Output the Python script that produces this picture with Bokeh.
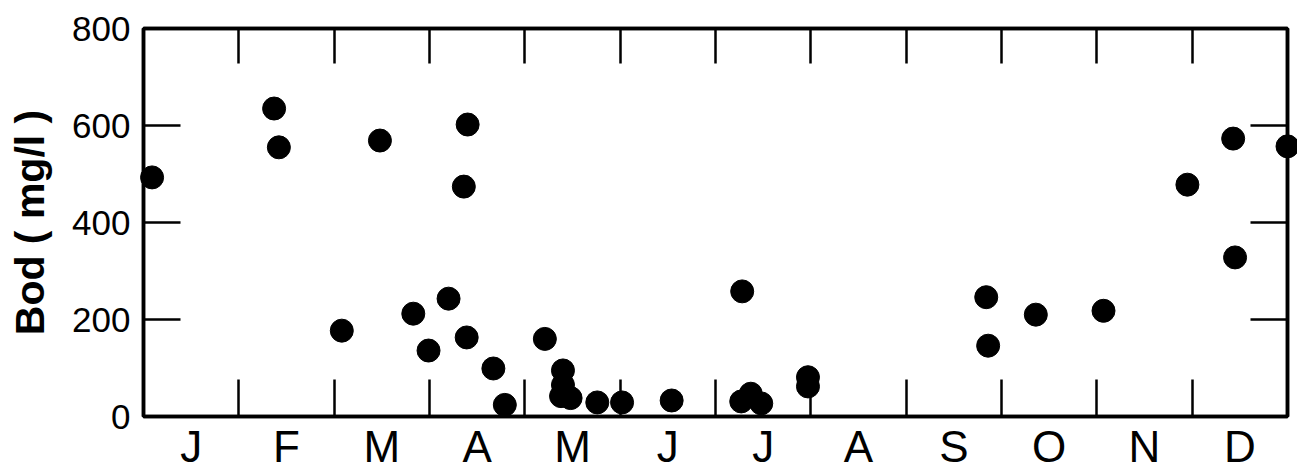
from bokeh.plotting import figure
from bokeh.models import FixedTicker, LinearAxis, Range1d
from bokeh.embed import file_html
from bokeh.resources import INLINE

# ---- data -------------------------------------------------------------
month_labels = ["J", "F", "M", "A", "M", "J", "J", "A", "S", "O", "N", "D"]
month_bounds = list(range(13))                      # month boundaries (0 = Jan 1)
month_mids = [b + 0.5 for b in month_bounds[:-1]]   # label positions
y_ticks = [0, 200, 400, 600, 800]

# sampling time (in months from Jan 1) and BOD (mg/l)
bod_month = [0.09, 1.37, 1.42, 2.08, 2.48, 2.83, 2.99, 3.20, 3.36, 3.39, 3.40,
             3.67, 3.79, 4.21, 4.40, 4.40, 4.38, 4.48, 4.76, 5.02, 5.54,
             6.28, 6.27, 6.37, 6.48, 6.97, 6.97,
             8.84, 8.86, 9.36, 10.07, 10.95, 11.43, 11.45, 12.00]
bod_value = [493, 635, 555, 177, 569, 212, 136, 243, 474, 163, 602,
             99, 24, 160, 95, 65, 42, 38, 29, 29, 33,
             258, 31, 47, 27, 81, 62,
             246, 146, 210, 218, 478, 573, 328, 557]

FONT = "Liberation Sans"

p = figure(width=1297, height=475, frame_width=1144, frame_height=388,
           x_range=Range1d(0, 12), y_range=Range1d(0, 800),
           output_backend="svg", toolbar_location=None,
           x_axis_location=None, y_axis_location=None,
           min_border_left=143, min_border_right=10,
           min_border_top=28, min_border_bottom=59)
p.grid.visible = False
p.outline_line_color = "black"
p.outline_line_width = 3.5
p.background_fill_color = "white"
p.border_fill_color = "white"

# bottom axis: month letters centred in months, boundary ticks pointing in
bottom = LinearAxis(ticker=FixedTicker(ticks=month_mids, minor_ticks=month_bounds))
bottom.major_label_overrides = {m: lab for m, lab in zip(month_mids, month_labels)}
bottom.major_tick_in = 0
bottom.major_tick_out = 0
bottom.minor_tick_in = 37
bottom.minor_tick_out = 0
bottom.minor_tick_line_width = 2.5
bottom.axis_line_width = 3.5
bottom.major_label_standoff = 5
bottom.major_label_text_font = FONT
bottom.major_label_text_font_size = "44px"
bottom.major_label_text_color = "black"
p.add_layout(bottom, "below")

# top axis: boundary ticks only
top = LinearAxis(ticker=FixedTicker(ticks=[], minor_ticks=month_bounds))
top.minor_tick_in = 35
top.minor_tick_out = 0
top.minor_tick_line_width = 2.5
top.axis_line_width = 3.5
top.major_label_text_font_size = "0px"
top.major_label_standoff = 0
p.add_layout(top, "above")

# left axis
left = LinearAxis(ticker=FixedTicker(ticks=y_ticks), axis_label="Bod ( mg/l )")
left.major_tick_in = 37
left.major_tick_out = 0
left.major_tick_line_width = 2.5
left.axis_line_width = 3.5
left.minor_tick_in = 0
left.minor_tick_out = 0
left.major_label_standoff = 13
left.major_label_text_font = FONT
left.major_label_text_font_size = "35px"
left.major_label_text_color = "black"
left.axis_label_text_font = FONT
left.axis_label_text_font_style = "bold"
left.axis_label_text_font_size = "41px"
left.axis_label_text_color = "black"
left.axis_label_standoff = 16
p.add_layout(left, "left")

# right axis: ticks only
right = LinearAxis(ticker=FixedTicker(ticks=[], minor_ticks=y_ticks))
right.minor_tick_in = 37
right.minor_tick_out = 0
right.minor_tick_line_width = 2.5
right.axis_line_width = 3.5
right.major_label_text_font_size = "0px"
right.major_label_standoff = 0
p.add_layout(right, "right")

p.scatter(bod_month, bod_value, size=23, color="black", level="overlay")

open("out.html", "w").write(file_html(p, INLINE))
